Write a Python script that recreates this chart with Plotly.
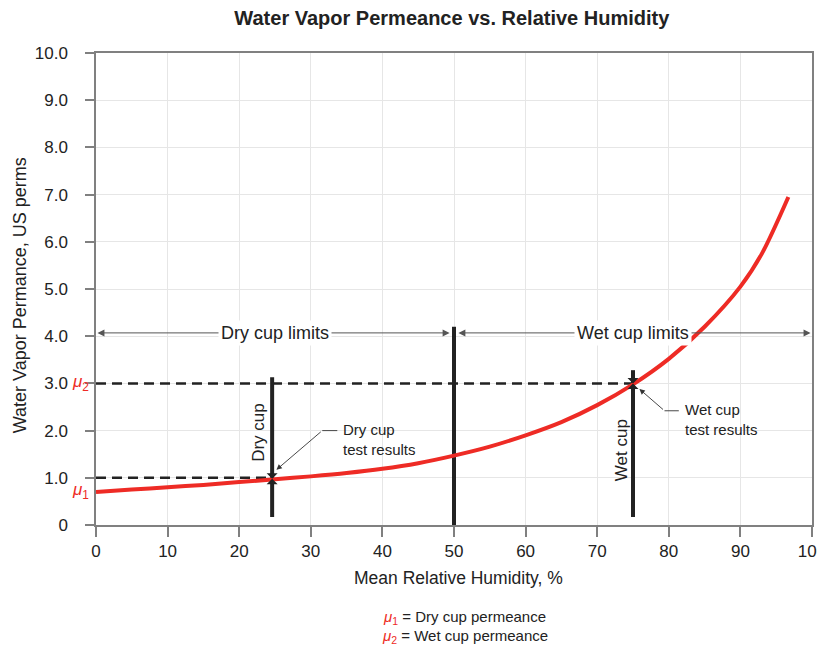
import plotly.graph_objects as go

# ---- data ----
rh = [0, 5, 10, 15, 20, 25, 30, 35, 40, 45, 50, 55, 60, 65, 70, 75, 80, 85, 90, 93, 96.7]
perm = [0.70, 0.75, 0.80, 0.85, 0.91, 0.97, 1.03, 1.10, 1.19, 1.31, 1.47, 1.66, 1.90,
        2.18, 2.54, 2.98, 3.52, 4.20, 5.05, 5.75, 6.95]

dry_rh = 24.6
dry_perm = 1.0
wet_rh = 75.0
wet_perm = 3.0
limit_rh = 50.0
limits_y = 4.07

x_ticks = [0, 10, 20, 30, 40, 50, 60, 70, 80, 90, 100]
y_ticks = [0, 1, 2, 3, 4, 5, 6, 7, 8, 9, 10]
y_tick_labels = ["0", "1.0", "2.0", "3.0", "4.0", "5.0", "6.0", "7.0", "8.0", "9.0", "10.0"]

RED = "#ee2b25"
INK = "#222222"
FONT = "Liberation Sans, Arial, Helvetica, sans-serif"

fig = go.Figure()

# dashed reference lines
fig.add_trace(go.Scatter(x=[0, dry_rh], y=[dry_perm, dry_perm], mode="lines",
                         line=dict(color=INK, width=2.5, dash="10px,6px"), hoverinfo="skip"))
fig.add_trace(go.Scatter(x=[0, wet_rh], y=[wet_perm, wet_perm], mode="lines",
                         line=dict(color=INK, width=2.5, dash="10px,6px"), hoverinfo="skip"))

# thick vertical lines
fig.add_trace(go.Scatter(x=[dry_rh, dry_rh], y=[0.17, 3.13], mode="lines",
                         line=dict(color=INK, width=4), hoverinfo="skip"))
fig.add_trace(go.Scatter(x=[wet_rh, wet_rh], y=[0.17, 3.28], mode="lines",
                         line=dict(color=INK, width=4), hoverinfo="skip"))
fig.add_trace(go.Scatter(x=[limit_rh, limit_rh], y=[0, 4.2], mode="lines",
                         line=dict(color=INK, width=4), hoverinfo="skip"))

# permeance curve
fig.add_trace(go.Scatter(x=rh, y=perm, mode="lines",
                         line=dict(color=RED, width=4, shape="spline", smoothing=0.8),
                         hoverinfo="skip"))

# test result markers
fig.add_trace(go.Scatter(x=[dry_rh, wet_rh], y=[0.98, 3.0], mode="markers",
                         marker=dict(symbol="hourglass", size=11, color=INK),
                         hoverinfo="skip"))

annotations = []

# dimension arrows
annotations.append(dict(x=0.2, y=limits_y, ax=49.6, ay=limits_y, xref="x", yref="y",
                        axref="x", ayref="y", text="", showarrow=True, arrowhead=2,
                        arrowside="end+start", arrowsize=1.4, arrowwidth=1, arrowcolor="#555"))
annotations.append(dict(x=99.8, y=limits_y, ax=50.4, ay=limits_y, xref="x", yref="y",
                        axref="x", ayref="y", text="", showarrow=True, arrowhead=2,
                        arrowside="end+start", arrowsize=1.4, arrowwidth=1, arrowcolor="#555"))
annotations.append(dict(x=25, y=limits_y, xref="x", yref="y", text="Dry cup limits",
                        xanchor="center", yanchor="middle",
                        showarrow=False, bgcolor="white", borderpad=2,
                        font=dict(size=18, color=INK, family=FONT)))
annotations.append(dict(x=75, y=limits_y, xref="x", yref="y", text="Wet cup limits",
                        xanchor="center", yanchor="middle",
                        showarrow=False, bgcolor="white", borderpad=2,
                        font=dict(size=18, color=INK, family=FONT)))

# rotated labels
annotations.append(dict(x=22.6, y=1.97, xref="x", yref="y", text="Dry cup", textangle=-90,
                        xanchor="center", yanchor="middle",
                        showarrow=False, font=dict(size=17, color=INK, family=FONT)))
annotations.append(dict(x=73.5, y=1.59, xref="x", yref="y", text="Wet cup", textangle=-90,
                        xanchor="center", yanchor="middle",
                        showarrow=False, font=dict(size=17, color=INK, family=FONT)))

# test result leaders
annotations.append(dict(x=25.2, y=1.17, ax=31.6, ay=2.0, xref="x", yref="y",
                        axref="x", ayref="y", text="", showarrow=True, arrowhead=2,
                        arrowsize=1.2, arrowwidth=0.9, arrowcolor="#333"))
annotations.append(dict(x=34.2, y=1.82, xref="x", yref="y", text="Dry cup<br>test results",
                        showarrow=False, xanchor="left", yanchor="middle", align="left",
                        font=dict(size=15, color=INK, family=FONT)))
annotations.append(dict(x=75.9, y=2.88, ax=79.4, ay=2.42, xref="x", yref="y",
                        axref="x", ayref="y", text="", showarrow=True, arrowhead=2,
                        arrowsize=1.2, arrowwidth=0.9, arrowcolor="#333"))
annotations.append(dict(x=82.0, y=2.24, xref="x", yref="y", text="Wet cup<br>test results",
                        showarrow=False, xanchor="left", yanchor="middle", align="left",
                        font=dict(size=15, color=INK, family=FONT)))

# mu labels at the axis
annotations.append(dict(x=-0.021, y=wet_perm, xref="paper", yref="y",
                        xanchor="center", yanchor="middle",
                        text="<i>μ</i><sub>2</sub>", showarrow=False,
                        font=dict(size=17, color=RED, family=FONT)))
annotations.append(dict(x=-0.021, y=0.72, xref="paper", yref="y",
                        xanchor="center", yanchor="middle",
                        text="<i>μ</i><sub>1</sub>", showarrow=False,
                        font=dict(size=17, color=RED, family=FONT)))

# axis titles
annotations.append(dict(x=0.506, y=-0.112, xref="paper", yref="paper",
                        xanchor="center", yanchor="middle",
                        text="Mean Relative Humidity, %", showarrow=False,
                        font=dict(size=17.5, color=INK, family=FONT)))
annotations.append(dict(x=-0.106, y=0.487, xref="paper", yref="paper",
                        xanchor="center", yanchor="middle",
                        text="Water Vapor Permance, US perms", textangle=-90, showarrow=False,
                        font=dict(size=18, color=INK, family=FONT)))

# footnote legend
annotations.append(dict(x=0.515, y=-0.197, xref="paper", yref="paper",
                        xanchor="center", yanchor="middle",
                        text=f"<span style='color:{RED}'><i>μ</i><sub>1</sub></span> = Dry cup permeance",
                        showarrow=False, font=dict(size=15, color=INK, family=FONT)))
annotations.append(dict(x=0.515, y=-0.237, xref="paper", yref="paper",
                        xanchor="center", yanchor="middle",
                        text=f"<span style='color:{RED}'><i>μ</i><sub>2</sub></span> = Wet cup permeance",
                        showarrow=False, font=dict(size=15, color=INK, family=FONT)))

shapes = [
    dict(type="line", xref="x", yref="y", x0=31.6, x1=33.7, y0=2.0, y1=2.0,
         line=dict(color="#333", width=0.9)),
    dict(type="line", xref="x", yref="y", x0=79.4, x1=81.4, y0=2.42, y1=2.42,
         line=dict(color="#333", width=0.9)),
]

# the page body adds an 8px margin; margins are chosen so the plot area lands where
# the reference has it, with room on the right for the last tick label
fig.update_layout(
    width=825, height=642,
    margin=dict(l=88, r=21, t=45, b=125, autoexpand=False),
    paper_bgcolor="white", plot_bgcolor="white",
    showlegend=False,
    font=dict(family=FONT, color=INK),
    title=dict(text="<b>Water Vapor Permeance vs. Relative Humidity</b>",
               xref="paper", x=0.497, xanchor="center",
               yref="container", y=1 - 10 / 642, yanchor="middle",
               font=dict(size=20, color=INK, family=FONT)),
    annotations=annotations,
    shapes=shapes,
)

fig.update_xaxes(range=[0, 100], tickvals=x_ticks, ticktext=[str(v) for v in x_ticks],
                 automargin=False, ticklabeloverflow="allow",
                 showgrid=True, gridcolor="#e6e6e6", gridwidth=1,
                 showline=True, linecolor="#808080", linewidth=1.5, mirror=True,
                 ticks="outside", ticklen=10, tickcolor="#808080", tickwidth=1.5,
                 tickfont=dict(size=17, color=INK, family=FONT), zeroline=False)
fig.update_yaxes(range=[0, 10], tickvals=y_ticks, ticktext=y_tick_labels,
                 automargin=False, ticklabeloverflow="allow",
                 showgrid=True, gridcolor="#e6e6e6", gridwidth=1,
                 showline=True, linecolor="#808080", linewidth=1.5, mirror=True,
                 ticks="outside", ticklen=9, tickcolor="#808080", tickwidth=1.5,
                 ticklabelstandoff=14,
                 tickfont=dict(size=17, color=INK, family=FONT), zeroline=False)

fig.write_html("out.html")
